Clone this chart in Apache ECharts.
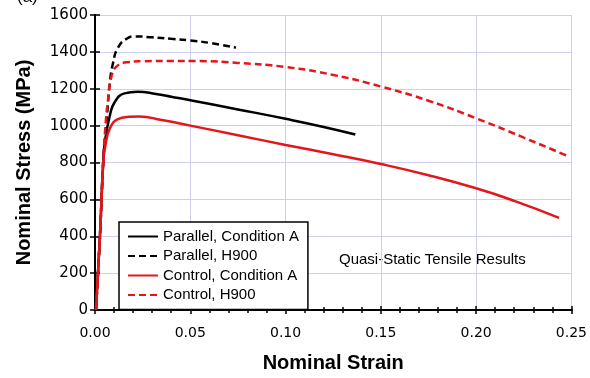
<!DOCTYPE html>
<html>
<head>
<meta charset="utf-8">
<script src="https://cdn.jsdelivr.net/npm/echarts@6/dist/echarts.min.js"></script>
<style>
  html, body { margin: 0; padding: 0; background: #fff; }
  #chart { width: 590px; height: 378px; }
</style>
</head>
<body>
<div id="chart"></div>
<script>
// strain / stress pairs
const parallelA = [
    [0.0005, 0], [0.0026, 400], [0.0043, 800], [0.0052, 912], [0.0078, 1055], [0.0103, 1127],
    [0.0155, 1175], [0.0224, 1184], [0.032, 1172], [0.04, 1157], [0.05, 1138],
    [0.075, 1088], [0.1, 1037], [0.12, 993], [0.1366, 952]
];
const parallelH900 = [
    [0.0005, 0], [0.0026, 400], [0.0043, 800], [0.0052, 920], [0.0065, 1080], [0.0078, 1234],
    [0.0095, 1341], [0.012, 1422], [0.0164, 1470], [0.0207, 1484], [0.03, 1479], [0.04, 1471],
    [0.05, 1462], [0.06, 1449], [0.074, 1423]
];
const controlA = [
    [0.0005, 0], [0.0026, 400], [0.0043, 800], [0.0055, 894], [0.0078, 984], [0.012, 1035],
    [0.018, 1048], [0.0233, 1050], [0.035, 1030], [0.05, 1000], [0.075, 948], [0.1, 895],
    [0.125, 845], [0.15, 792], [0.175, 731], [0.2, 660], [0.22, 592], [0.2435, 500]
];
const controlH900 = [
    [0.0005, 0], [0.0026, 400], [0.0043, 800], [0.0055, 1000], [0.0069, 1145], [0.0086, 1265],
    [0.0112, 1320], [0.0172, 1344], [0.025, 1349], [0.04, 1351], [0.055, 1350],
    [0.075, 1340], [0.1, 1318], [0.125, 1275], [0.15, 1212], [0.175, 1135], [0.2, 1040],
    [0.225, 935], [0.2474, 838]
];

const seriesNames = ['Parallel, Condition A', 'Parallel, H900', 'Control, Condition A', 'Control, H900'];
const annotation = 'Quasi-Static Tensile Results';

const red = '#e3161b';
const gridColor = '#cfcfef';
const labelFont = 'DejaVu Sans';
const textFont = 'Liberation Sans';

function xAxisDef(position, inside, extra) {
    return Object.assign({
        type: 'value',
        position: position,
        min: 0,
        max: 0.25,
        interval: 0.05,
        axisLine: { show: true, lineStyle: { color: '#000', width: 2 } },
        axisTick: { show: true, inside: inside, length: 4, lineStyle: { color: '#000', width: 1.5 } },
        minorTick: { show: true, splitNumber: 5, length: 3, lineStyle: { color: '#000', width: 1.5 } },
        axisLabel: { show: false },
        splitLine: { show: false }
    }, extra || {});
}

function yAxisDef(position, inside, extra) {
    return Object.assign({
        type: 'value',
        position: position,
        min: 0,
        max: 1600,
        interval: 200,
        axisLine: { show: true, lineStyle: { color: '#000', width: 2 } },
        axisTick: { show: true, inside: inside, length: inside ? 3 : 5, lineStyle: { color: '#000', width: 1.5 } },
        axisLabel: { show: false },
        splitLine: { show: false }
    }, extra || {});
}

function lineSeries(name, data, color, dashed) {
    return {
        name: name,
        type: 'line',
        data: data,
        xAxisIndex: 0,
        yAxisIndex: 0,
        symbol: 'none',
        smooth: 0.5,
        lineStyle: { color: color, width: 2.5, type: dashed ? [7, 4] : 'solid' },
        itemStyle: { color: color }
    };
}

const chart = echarts.init(document.getElementById('chart'));
chart.setOption({
    animation: false,
    backgroundColor: '#fff',
    grid: { left: 95, right: 16, top: 15, bottom: 64, containLabel: false },
    xAxis: [
        xAxisDef('bottom', false, {
            name: 'Nominal Strain',
            nameLocation: 'middle',
            nameGap: 43,
            nameTextStyle: { fontFamily: textFont, fontWeight: 'bold', fontSize: 20, color: '#000' },
            axisLabel: {
                show: true, margin: 16, fontFamily: labelFont, fontSize: 14, color: '#000',
                formatter: v => v.toFixed(2)
            },
            splitLine: { show: true, lineStyle: { color: gridColor, width: 1 } }
        }),
        xAxisDef('bottom', true),
        xAxisDef('top', false),
        xAxisDef('top', true)
    ],
    yAxis: [
        yAxisDef('left', false, {
            name: 'Nominal Stress (MPa)',
            nameLocation: 'middle',
            nameGap: 61,
            nameTextStyle: { fontFamily: textFont, fontWeight: 'bold', fontSize: 20, color: '#000' },
            axisLabel: {
                show: true, margin: 7, fontFamily: labelFont, fontSize: 15, color: '#000',
                formatter: v => String(v)
            },
            splitLine: { show: true, lineStyle: { color: gridColor, width: 1 } }
        }),
        yAxisDef('left', true),
        yAxisDef('right', false),
        yAxisDef('right', true)
    ],
    legend: {
        orient: 'vertical',
        left: 119,
        top: 222,
        padding: [7, 9, 7, 8],
        itemWidth: 30,
        itemHeight: 14,
        itemGap: 4.5,
        borderColor: '#000',
        borderWidth: 1.5,
        borderRadius: 0,
        backgroundColor: '#fff',
        itemStyle: { color: 'rgba(0,0,0,0)', borderColor: 'rgba(0,0,0,0)', borderWidth: 0 },
        textStyle: { fontFamily: textFont, fontSize: 15, color: '#000' },
        data: seriesNames
    },
    graphic: [
        {
            type: 'text',
            left: 339,
            top: 252,
            style: { text: annotation, font: '15px "Liberation Sans"', fill: '#000' }
        },
        {
            type: 'text',
            left: 17,
            top: -11,
            style: { text: '(a)', font: '17px "Liberation Sans"', fill: '#000' }
        }
    ],
    series: [
        lineSeries(seriesNames[0], parallelA, '#000', false),
        lineSeries(seriesNames[1], parallelH900, '#000', true),
        lineSeries(seriesNames[2], controlA, red, false),
        lineSeries(seriesNames[3], controlH900, red, true)
    ]
});
</script>
</body>
</html>
